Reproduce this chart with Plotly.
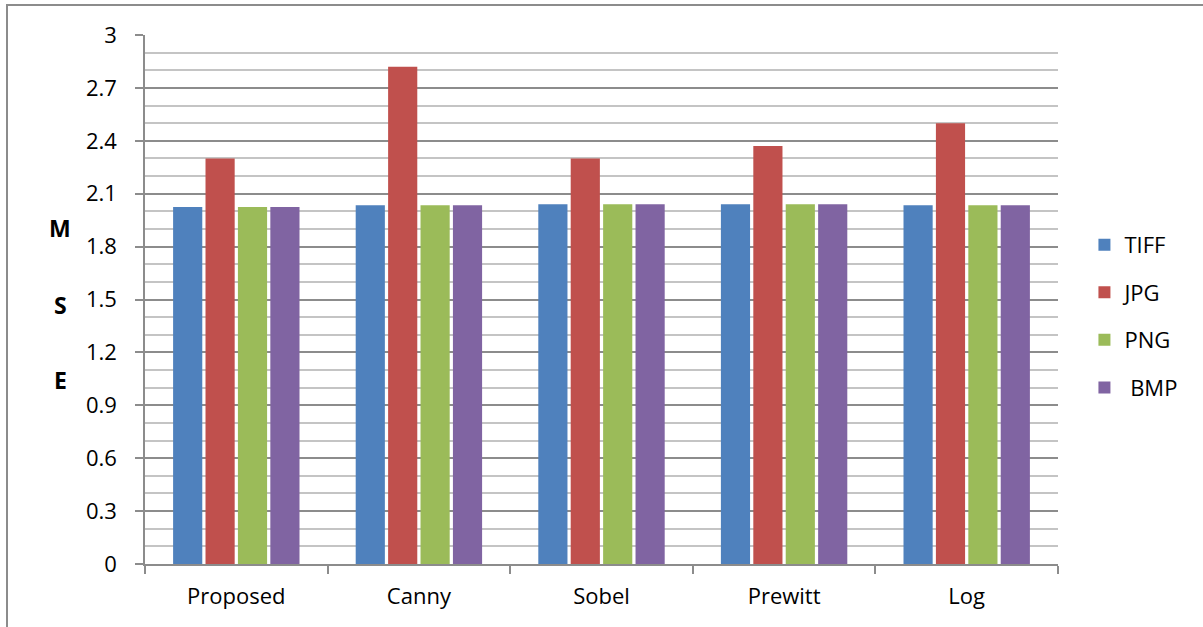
import plotly.graph_objects as go

# MSE of each edge detector for the four image formats
methods = ["Proposed", "Canny", "Sobel", "Prewitt", "Log"]
tiff = [2.025, 2.035, 2.04, 2.04, 2.035]
jpg = [2.30, 2.82, 2.30, 2.37, 2.50]
png = [2.025, 2.035, 2.04, 2.04, 2.035]
bmp = [2.025, 2.035, 2.04, 2.04, 2.035]

series = [
    ("TIFF", tiff, "#4F81BD"),
    ("JPG", jpg, "#C0504D"),
    ("PNG", png, "#9BBB59"),
    (" BMP", bmp, "#8064A2"),
]

W, H = 1203, 627
L, R, T, B = 145, 145, 35, 63
plot_w = W - L - R
plot_h = H - T - B

fig = go.Figure()
for i, (name, vals, color) in enumerate(series):
    fig.add_trace(go.Bar(
        x=methods, y=vals, name=name,
        marker=dict(color=color, line=dict(width=0)),
        legendgroup=str(i),
    ))

font_family = "Open Sans, Liberation Sans, sans-serif"

fig.update_layout(
    width=W, height=H,
    margin=dict(l=L, r=R, t=T, b=B),
    paper_bgcolor="white",
    plot_bgcolor="white",
    barmode="group",
    bargap=0.29,
    bargroupgap=0.10,
    font=dict(family=font_family, size=22, color="black"),
    legend=dict(
        x=0.995 + 31 / 913, y=0.643, xanchor="left", yanchor="top",
        font=dict(size=22),
        tracegroupgap=16,
        itemwidth=30,
        bgcolor="rgba(0,0,0,0)",
    ),
    showlegend=True,
)

fig.update_yaxes(
    range=[0, 3],
    dtick=0.3,
    tick0=0,
    showgrid=True,
    gridcolor="#8c8c8c",
    gridwidth=1.5,
    showline=True,
    linecolor="#8c8c8c",
    linewidth=1.5,
    ticks="outside",
    ticklen=8,
    tickcolor="#8c8c8c",
    tickwidth=1.5,
    ticklabelstandoff=14,
    tickfont=dict(size=22),
    zeroline=False,
    minor=dict(dtick=0.1, tick0=0, showgrid=True, gridcolor="#c4c4c4", gridwidth=1.5),
    fixedrange=True,
)

fig.update_xaxes(
    showline=True,
    linecolor="#8c8c8c",
    linewidth=1.5,
    ticks="outside",
    tickson="boundaries",
    ticklen=8,
    tickcolor="#8c8c8c",
    tickwidth=1.5,
    tickfont=dict(size=22),
    ticklabelstandoff=12,
    showgrid=False,
)

# Axis title "MSE" written as stacked letters
for letter, py in [("M", 228), ("S", 305), ("E", 380)]:
    fig.add_annotation(
        text="<b>%s</b>" % letter,
        xref="paper", yref="paper",
        x=(60 - L) / plot_w, y=(H - B - py) / plot_h,
        showarrow=False, xanchor="center", yanchor="middle",
        font=dict(size=23, family=font_family),
    )

# Outer chart frame
def px_x(px):
    return (px - L) / plot_w

def px_y(py):
    return (H - B - py) / plot_h

fig.add_shape(
    type="rect", xref="paper", yref="paper",
    x0=px_x(7), x1=px_x(1215), y0=px_y(640), y1=px_y(5),
    line=dict(color="#8c8c8c", width=2), fillcolor="rgba(0,0,0,0)",
    layer="below",
)

fig.write_html("out.html")
